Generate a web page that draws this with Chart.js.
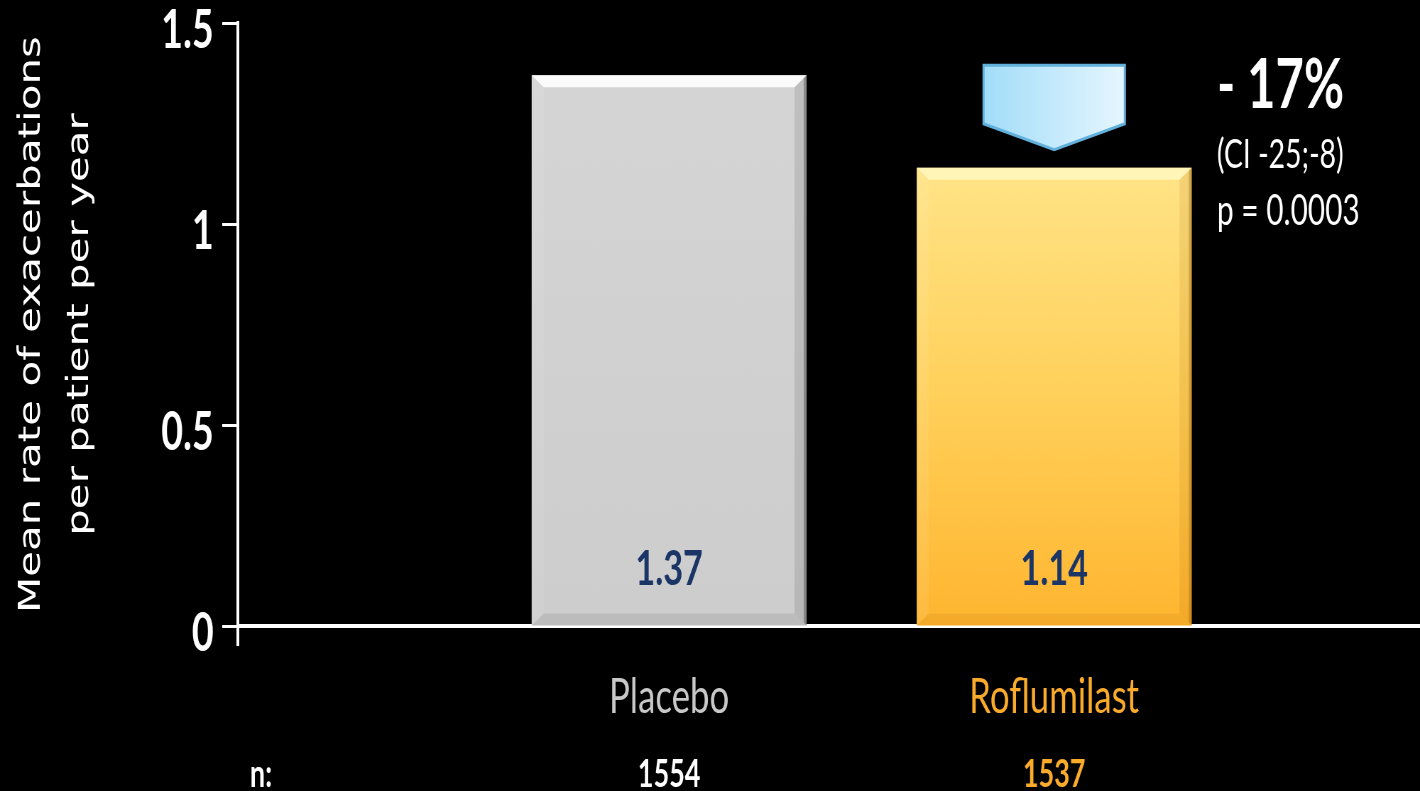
<!DOCTYPE html>
<html>
<head>
<meta charset="utf-8">
<script src="https://cdn.jsdelivr.net/npm/chart.js@4.4.1/dist/chart.umd.min.js"></script>
<style>
  html, body { margin: 0; padding: 0; background: #000; overflow: hidden; }
  #frame { width: 1420px; height: 791px; overflow: hidden; }
  /* the slide is laid out 2000px wide and squeezed horizontally */
  #wrap { width: 2000px; height: 791px; transform: scaleX(0.71); transform-origin: 0 0; }
</style>
</head>
<body>
<div id="frame"><div id="wrap"><canvas id="rateChart"></canvas></div></div>
<script>
// groups, mean exacerbation rate per patient per year, patients per group
const groups = ['Placebo', 'Roflumilast'];
const meanRates = [1.37, 1.14];
const patients = [1554, 1537];
const groupColors = ['#c8c8c8', '#fbab2c'];
const yTicks = [0, 0.5, 1, 1.5];
const ciText = '(CI -25;-8)';
const pText = 'p = 0.0003';

const FONT = "Lato, 'Open Sans', sans-serif";
const X_MIN = -0.12, X_MAX = 2.95;

function barFill(c) {
  const area = c.chart.chartArea;
  if (!area) return groupColors[c.dataIndex];
  const top = c.chart.scales.y.getPixelForValue(meanRates[c.dataIndex]);
  const g = c.chart.ctx.createLinearGradient(0, top, 0, area.bottom);
  if (c.dataIndex === 0) {
    g.addColorStop(0, '#d5d5d5');
    g.addColorStop(1, '#cdcdcd');
  } else {
    g.addColorStop(0, '#ffe487');
    g.addColorStop(0.5, '#ffd05a');
    g.addColorStop(1, '#ffb52f');
  }
  return g;
}

function poly(ctx, pts, fill) {
  ctx.beginPath();
  ctx.moveTo(pts[0][0], pts[0][1]);
  for (let i = 1; i < pts.length; i++) ctx.lineTo(pts[i][0], pts[i][1]);
  ctx.closePath();
  ctx.fillStyle = fill;
  ctx.fill();
}

// bevelled edges, value labels, n row and the reduction arrow
const decorations = {
  id: 'decorations',
  afterDatasetsDraw(chart) {
    const ctx = chart.ctx;
    const area = chart.chartArea;
    const bars = chart.getDatasetMeta(0).data;
    const bx = 17, by = 12;
    ctx.save();

    // y axis runs a little past the baseline
    ctx.strokeStyle = '#fff';
    ctx.lineWidth = 4;
    ctx.beginPath();
    ctx.moveTo(area.left, area.bottom);
    ctx.lineTo(area.left, area.bottom + 20);
    ctx.stroke();

    bars.forEach((bar, i) => {
      const l = bar.x - bar.width / 2, r = bar.x + bar.width / 2;
      const t = bar.y, btm = bar.base;
      poly(ctx, [[l, t], [r, t], [r - bx, t + by], [l + bx, t + by]],
        i === 0 ? 'rgba(255,255,255,0.9)' : 'rgba(255,248,190,0.85)');
      poly(ctx, [[r, t], [r, btm], [r - bx, btm - by], [r - bx, t + by]],
        i === 0 ? 'rgba(0,0,0,0.10)' : 'rgba(160,90,0,0.12)');
      poly(ctx, [[r - 4, t + 3], [r, t], [r, btm], [r - 4, btm - 3]],
        i === 0 ? 'rgba(0,0,0,0.28)' : 'rgba(150,90,0,0.35)');
      poly(ctx, [[l, btm], [r, btm], [r - bx, btm - by], [l + bx, btm - by]],
        i === 0 ? 'rgba(0,0,0,0.08)' : 'rgba(170,100,0,0.12)');
      poly(ctx, [[l, t], [l + bx, t + by], [l + bx, btm - by], [l, btm]],
        'rgba(255,255,255,0.08)');

      ctx.fillStyle = '#1a3566';
      ctx.font = 'bold 48px ' + FONT;
      ctx.textAlign = 'center';
      ctx.textBaseline = 'alphabetic';
      ctx.fillText(meanRates[i].toFixed(2), bar.x, btm - 41);
    });

    // n row
    ctx.font = 'bold 38px ' + FONT;
    ctx.textAlign = 'left';
    ctx.fillStyle = '#fff';
    ctx.fillText('n:', 352, 787);
    ctx.textAlign = 'center';
    bars.forEach((bar, i) => {
      ctx.fillStyle = i === 0 ? '#fff' : groupColors[1];
      ctx.fillText(String(patients[i]), bar.x, 787);
    });

    // arrow from placebo level down to the roflumilast bar
    const tr = bars[1];
    const half = tr.width * 0.257;
    const top = chart.scales.y.getPixelForValue(meanRates[0]) - 10;
    const tip = tr.y - 18;
    const shoulder = tip - 26;
    const g = ctx.createLinearGradient(tr.x - half, 0, tr.x + half, 0);
    g.addColorStop(0, '#a2ddf9');
    g.addColorStop(1, '#e6f6ff');
    ctx.beginPath();
    ctx.moveTo(tr.x - half, top);
    ctx.lineTo(tr.x + half, top);
    ctx.lineTo(tr.x + half, shoulder);
    ctx.lineTo(tr.x, tip);
    ctx.lineTo(tr.x - half, shoulder);
    ctx.closePath();
    ctx.fillStyle = g;
    ctx.fill();
    ctx.strokeStyle = '#62b0dc';
    ctx.lineWidth = 3;
    ctx.stroke();

    // reduction figure
    const change = Math.round((meanRates[1] - meanRates[0]) / meanRates[0] * 100);
    ctx.fillStyle = '#fff';
    ctx.textAlign = 'left';
    ctx.font = 'bold 69px ' + FONT;
    ctx.fillText('- ' + Math.abs(change) + '%', 1714, 108);
    ctx.font = '40px ' + FONT;
    ctx.fillText(ciText, 1714, 168);
    ctx.font = '42px ' + FONT;
    ctx.fillText(pText, 1714, 225);
    ctx.restore();
  }
};

const chart = new Chart(document.getElementById('rateChart'), {
  type: 'bar',
  data: {
    datasets: [{
      data: groups.map((g, i) => ({ x: i + 1, y: meanRates[i] })),
      backgroundColor: barFill,
      borderWidth: 0,
      barPercentage: 0.714,
      categoryPercentage: 1
    }]
  },
  options: {
    responsive: true,
    maintainAspectRatio: false,
    animation: false,
    layout: { padding: { top: 23, left: 0, right: 0, bottom: 0 } },
    plugins: { legend: { display: false }, tooltip: { enabled: false } },
    scales: {
      x: {
        type: 'linear',
        offset: false,
        min: X_MIN,
        max: X_MAX,
        afterBuildTicks: s => { s.ticks = groups.map((g, i) => ({ value: i + 1 })); },
        afterFit: s => { s.height = 165; s.paddingLeft = 0; s.paddingRight = 0; },
        border: { color: '#fff', width: 4 },
        grid: { drawOnChartArea: false, tickLength: 20, tickColor: 'rgba(0,0,0,0)' },
        ticks: {
          autoSkip: false,
          maxRotation: 0,
          padding: 22,
          callback: v => groups[v - 1] !== undefined ? groups[v - 1] : '',
          color: c => groupColors[c.tick.value - 1] || '#fff',
          font: { family: FONT, size: 49 }
        }
      },
      y: {
        min: 0,
        max: 1.5,
        afterBuildTicks: s => { s.ticks = yTicks.map(v => ({ value: v })); },
        afterFit: s => { s.width = 335; s.paddingTop = 0; s.paddingBottom = 0; },
        border: { color: '#fff', width: 4 },
        grid: { drawOnChartArea: false, tickLength: 22, tickWidth: 3, tickColor: '#fff' },
        ticks: {
          color: '#fff',
          padding: 12,
          labelOffset: 8,
          callback: v => String(v),
          font: { family: FONT, size: 53, weight: 'bold' }
        },
        title: {
          display: true,
          text: ['Mean rate of exacerbations', 'per patient per year'],
          color: '#fff',
          font: { family: "'DejaVu Sans', sans-serif", size: 42, lineHeight: 1.62 },
          padding: { top: 11, bottom: 0 }
        }
      }
    }
  },
  plugins: [decorations]
});
</script>
</body>
</html>
